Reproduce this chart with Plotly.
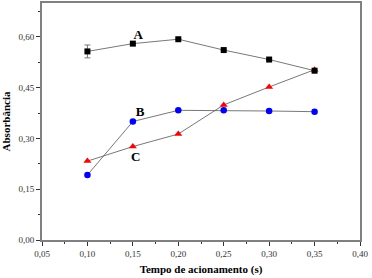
import plotly.graph_objects as go

tempo = [0.10, 0.15, 0.20, 0.25, 0.30, 0.35]
serie_a = [0.557, 0.580, 0.593, 0.561, 0.533, 0.500]
erro_a = [0.019, 0.0, 0.0, 0.0, 0.0, 0.0]
serie_b = [0.192, 0.350, 0.383, 0.383, 0.381, 0.379]
serie_c = [0.233, 0.276, 0.313, 0.399, 0.452, 0.503]
rotulos = ["A", "B", "C"]
rotulo_x = [0.156, 0.158, 0.153]
rotulo_y = [0.604, 0.376, 0.244]
x_ticks = [0.05, 0.10, 0.15, 0.20, 0.25, 0.30, 0.35, 0.40]
y_ticks = [0.00, 0.15, 0.30, 0.45, 0.60]

FONT = "Liberation Serif, Times New Roman, serif"
line_col = "#555555"

fig = go.Figure()
fig.add_trace(go.Scatter(x=tempo, y=serie_b, mode="lines+markers",
                         line=dict(color=line_col, width=0.8),
                         marker=dict(symbol="circle", size=6.5, color="blue"),
                         showlegend=False))
fig.add_trace(go.Scatter(x=tempo, y=serie_c, mode="lines+markers",
                         line=dict(color=line_col, width=0.8),
                         marker=dict(symbol="triangle-up", size=7, color="red"),
                         showlegend=False))
fig.add_trace(go.Scatter(x=tempo, y=serie_a, mode="lines+markers",
                         line=dict(color=line_col, width=0.8),
                         marker=dict(symbol="square", size=6, color="black"),
                         error_y=dict(type="data", array=erro_a, color="#777777", thickness=1, width=3),
                         showlegend=False))
fig.add_trace(go.Scatter(x=rotulo_x, y=rotulo_y, mode="text", text=rotulos,
                         textfont=dict(family=FONT, size=13, color="black", weight="bold"),
                         showlegend=False))

axis_common = dict(showline=True, linecolor="#808080", linewidth=2, mirror=True,
                   ticks="outside", ticklen=4, tickcolor="#333333", tickwidth=1,
                   showgrid=False, zeroline=False, automargin=False,
                   tickfont=dict(family=FONT, size=9, color="#333333"),
                   minor=dict(ticks="outside", ticklen=2, tickcolor="#333333", tickwidth=1))

fig.update_xaxes(range=[0.05, 0.40], tickvals=x_ticks, tickformat=".2f",
                 title=dict(text="Tempo de acionamento (s)", font=dict(family=FONT, size=11, color="black", weight="bold"), standoff=8),
                 **axis_common)
fig.update_yaxes(range=[0.0, 0.70], tickvals=y_ticks, tickformat=".2f",
                 title=dict(text="Absorbância", font=dict(family=FONT, size=11, color="black", weight="bold"), standoff=6),
                 **axis_common)
fig.update_xaxes(minor=dict(dtick=0.025, tick0=0.05))
fig.update_yaxes(minor=dict(dtick=0.075, tick0=0.0))

fig.update_layout(width=372, height=278, margin=dict(l=42, r=12, t=3, b=38),
                  plot_bgcolor="white", paper_bgcolor="white", separators=", ")
fig.write_html("out.html", config={"displayModeBar": False},
               post_script="document.body.style.margin='0';document.body.style.overflow='hidden';")
